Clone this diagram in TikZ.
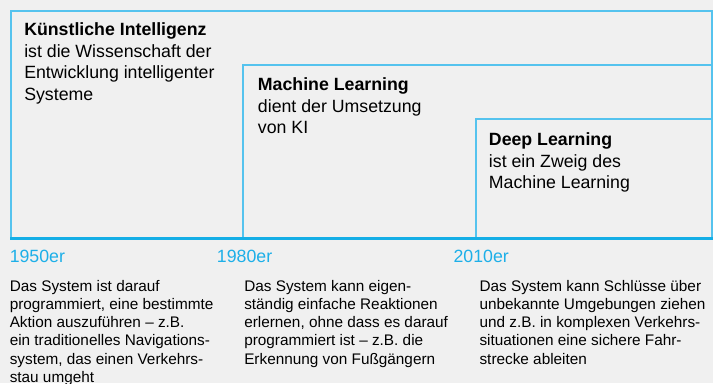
\documentclass[tikz,border=0pt]{standalone}
\usepackage{fontspec}
\setmainfont{Liberation Sans}
\usetikzlibrary{positioning}
\definecolor{kiblue}{HTML}{55C3EE}
\definecolor{lineblue}{HTML}{14AEE6}
\definecolor{yearblue}{HTML}{1DAFE8}
\definecolor{paper}{HTML}{F0F0F0}
\tikzstyle{field} = [
  draw=kiblue,
  line width=1.5
]
\tikzstyle{boxtext} = [
  anchor=north west,
  inner sep=0pt,
  align=left,
  font=\fontsize{13.3}{16.2}\selectfont
]
\tikzstyle{year} = [
  anchor=north west,
  inner sep=0pt,
  text=yearblue,
  font=\fontsize{13.3}{16.2}\selectfont
]
\tikzstyle{note} = [
  anchor=north west,
  inner sep=0pt,
  align=left,
  font=\fontsize{11.5}{13.7}\selectfont
]

\begin{document}
\begin{tikzpicture}[x=0.75pt, y=-0.75pt]
    \fill [paper] (0,0) rectangle (713,383);
    \useasboundingbox (0,0) rectangle (713,383);

    % nested fields
    \draw [field] (10.5,11) rectangle (712.3,238);
    \draw [field] (243,64.5) rectangle (712.3,238);
    \draw [field] (475.5,119) rectangle (712.3,238);
    \draw [lineblue, line width=2.25] (10,238.5) -- (713,238.5);

    \node (ki-text) [boxtext] at (24,22.3) {\textbf{Künstliche Intelligenz}\\ist die Wissenschaft der\\Entwicklung intelligenter\\Systeme};
    \node (ml-text) [boxtext] at (257.7,77.3) {\textbf{Machine Learning}\\dient der Umsetzung\\von KI};
    \node (dl-text) [boxtext] at (488.7,132.3) {\textbf{Deep Learning}\\ist ein Zweig des\\Machine Learning};

    % time line
    \node (year-1950) [year] at (9.5,249.6) {1950er};
    \node (year-1980) [year] at (216.7,249.6) {1980er};
    \node (year-2010) [year] at (453.3,249.6) {2010er};

    \node (note-1950) [note] at (9.5,279.7) {Das System ist darauf\\programmiert, eine bestimmte\\Aktion auszuführen – z.B.\\ein traditionelles Navigations-\\system, das einen Verkehrs-\\stau umgeht};
    \node (note-1980) [note] at (244,279.7) {Das System kann eigen-\\ständig einfache Reaktionen\\erlernen, ohne dass es darauf\\programmiert ist – z.B. die\\Erkennung von Fußgängern};
    \node (note-2010) [note] at (479.3,279.7) {Das System kann Schlüsse über\\unbekannte Umgebungen ziehen\\und z.B. in komplexen Verkehrs-\\situationen eine sichere Fahr-\\strecke ableiten};
\end{tikzpicture}
\end{document}
